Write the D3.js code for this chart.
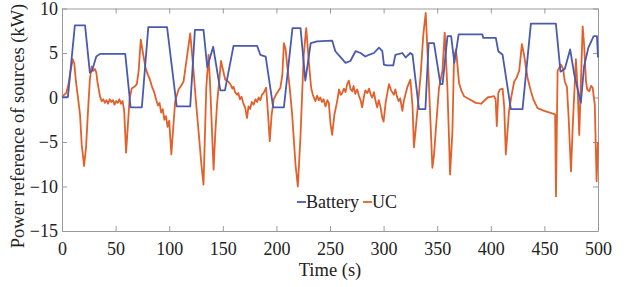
<!DOCTYPE html>
<html>
<head>
<meta charset="utf-8">
<script src="https://cdn.jsdelivr.net/npm/d3@7/dist/d3.min.js"></script>
<style>
    body { margin: 0; background: #fff; }
    svg { display: block; }
</style>
</head>
<body>
<div id="chart"></div>
<script>
//Tick values for both axes
const xTicks = [0, 50, 100, 150, 200, 250, 300, 350, 400, 450, 500];
const yTicks = [-15, -10, -5, 0, 5, 10];
const seriesNames = ['Battery', 'UC'];

//Battery reference (time in s, power in kW)
const batteryTime = [0, 5.5, 12, 21.5, 26, 28, 32, 35.5, 59, 64, 74.5, 80.5, 98, 107, 119.6, 124, 132, 135.5, 141, 147.7,
    152, 160, 182, 185, 190, 197, 207, 215, 222.5, 227, 232, 238, 252, 255, 260, 264.5, 269, 273.8, 278.5, 283,
    286.3, 291, 295.7, 298.8, 300.3, 303, 309, 311, 317.5, 320.6, 325, 327, 333, 339, 342, 347, 353, 355, 359.6, 363,
    366, 370, 392, 393, 404.7, 407, 411, 418.7, 429.6, 437.4, 460.7, 465, 469, 474, 478, 484, 487, 491, 496, 499, 500];
const batteryPower = [0.05, 0.05, 8.1, 8.1, 2.8, 3.0, 4.6, 4.9, 4.9, -1.1, -1.1, 7.9, 7.9, -1.0, -1.0, 7.6, 7.6, 3.4, 5.7, 0.8,
    0.8, 5.8, 5.8, 4.8, 4.6, -1.1, -1.1, 7.8, 7.8, 1.9, 6.1, 6.3, 6.4, 5.2, 4.5, 3.9, 4.1, 5.2, 5.0, 4.6,
    4.8, 5.0, 5.6, 5.2, 3.7, 3.6, 3.6, 4.8, 5.0, 4.5, 5.0, 4.8, -1.3, -1.3, 6.1, 6.1, 1.5, 1.5, 6.9, 6.9,
    3.9, 7.1, 7.1, 6.7, 6.7, 5.2, 4.8, -1.3, -1.3, 8.3, 8.3, 2.9, 3.2, 5.4, 2.5, -0.6, 3.5, 5.6, 6.9, 6.9, 4.5];

//UC reference
const ucTime = [0, 4, 6, 8, 10, 11.5, 13, 15.3, 16.8, 18.4, 20.6, 22.4, 24.6, 26, 27.7, 29, 30.8, 32, 33, 35.5,
    37, 38.5, 40, 41.5, 43, 44.5, 46, 47.5, 49, 50.5, 52, 53.5, 55, 56.5, 58, 59.8, 61.5, 63, 65, 67.5,
    69.8, 71.5, 73.5, 75.5, 78, 80, 82, 84, 86, 88, 89.5, 91, 92.5, 94, 95.5, 97, 98.5, 100, 102, 104,
    105.6, 108.7, 111, 113.4, 116.5, 119.6, 122.7, 125, 127.4, 130, 132, 134.6, 136.7, 138.3, 140, 141.4, 143, 144.6, 148.3, 152.3,
    155, 157, 159, 160, 161.5, 163.3, 164.5, 166, 167.5, 169, 171, 172.6, 174, 175.5, 177, 178.8, 180.5, 182, 183.5, 185,
    186.5, 188, 190.4, 192, 193.8, 195.5, 197.5, 200, 203.7, 205.5, 207, 208.5, 210, 212.5, 214.7, 217.8, 220, 222.4, 225.5, 227.8,
    230.2, 232.4, 234, 236.4, 238, 239.5, 241, 242.5, 244, 245.8, 247.5, 248.9, 250.5, 252, 254, 256.7, 258.4, 260, 261.4, 263,
    264.5, 266, 267.6, 269, 270.8, 272, 273.5, 275.4, 277, 278.5, 280, 281.5, 283, 284.8, 286.5, 288, 289.4, 291, 292.5, 294,
    295.5, 297, 298.8, 300, 302, 305, 307, 309.6, 311, 312.5, 314, 315.5, 317.5, 319, 320.5, 322, 325, 327, 328.3, 330,
    331.5, 333, 334.6, 337, 339.3, 341, 342.4, 344, 345.5, 347, 348.6, 351.7, 354.9, 357, 359.5, 361, 362, 364.2, 365.7, 367.5,
    369, 370.4, 372.5, 375, 380, 386, 391, 397, 403, 404.5, 405.6, 407, 408.5, 411, 412.5, 414, 417, 419, 421.8, 424,
    426.5, 429, 431, 434.3, 437.4, 440, 443.6, 449.8, 455, 460, 460.8, 462.3, 465.4, 467.5, 469, 471, 472.5, 474.8, 476.5, 479.4,
    481, 482.5, 484, 485.7, 487, 488.8, 490, 491.9, 493.5, 495, 497, 498.7, 500];
const ucPower = [0.1, 0.5, 1.5, 3.0, 4.3, 3.8, 1.8, -0.4, -1.9, -5.3, -7.7, -5.6, -0.8, 2.0, 3.5, 3.0, 3.2, 2.8, 1.8, 0.1,
    -0.4, -0.2, -0.6, -0.3, -0.7, -0.2, -0.5, -0.3, -0.8, -0.4, -0.6, -0.2, -0.7, -0.4, -1.5, -6.2, -3.0, -0.2, 1.0, 1.2,
    1.5, 3.0, 6.5, 5.0, 3.3, 2.6, 2.0, 1.2, 0.6, -0.3, -0.9, -0.6, -1.7, -1.3, -2.5, -2.1, -3.3, -2.6, -6.4, -3.0,
    -0.4, 0.9, 1.3, 1.8, 4.5, 7.2, 3.0, -0.5, -3.8, -7.5, -9.8, 1.1, 4.8, 1.1, -4.0, -8.1, -4.0, -0.8, 4.1, 2.0,
    1.8, 1.5, 1.0, 1.2, 0.6, 0.3, 0.5, -0.2, 0.1, -0.6, -1.2, -2.3, -1.0, -1.3, -0.5, -0.8, -0.2, -0.5, 0.0, -0.3,
    0.3, 0.5, 1.1, -1.5, -4.9, -2.0, -0.2, 0.4, 1.1, 2.5, 6.1, 5.5, 3.7, 1.0, -1.9, -7.5, -10.0, -4.5, 4.8, 7.8,
    4.1, 1.1, 0.3, -0.4, 0.2, -0.3, 0.0, -0.5, -0.2, -1.0, -0.3, -0.6, -3.0, -4.2, -2.0, -0.4, 0.9, 0.3, 0.5, 1.0,
    0.6, 1.5, 1.9, 1.0, 0.7, 1.3, 0.4, 0.9, 0.2, -0.3, -1.1, 0.0, 0.8, 0.5, 1.0, 0.3, 0.0, 0.6, -0.4, -1.1,
    -0.3, -1.0, -2.3, -2.7, -0.5, 1.5, 0.8, 0.3, 0.9, 0.1, -0.4, -0.1, -1.5, -0.3, 0.4, 1.1, 2.0, -1.0, -5.6, -3.5,
    -1.5, 0.5, 2.6, 7.0, 9.5, 5.0, 1.1, -3.5, -7.9, -6.5, -3.8, 1.1, 3.0, 7.3, 1.1, -4.5, -8.65, -3.8, 4.5, 5.4,
    3.5, 1.6, 0.8, 0.15, -0.2, -0.6, -0.7, 0.0, 0.15, -0.2, -3.2, 0.5, 0.9, 1.0, -1.0, -6.4, -1.5, 0.0, 1.8, 2.2,
    3.0, 6.0, 4.8, 2.2, 0.7, -0.3, -1.2, -1.5, -1.7, -1.9, -11.1, 3.0, 3.7, 3.2, 1.8, 1.2, -2.0, -8.3, -3.0, 4.3,
    1.0, -4.2, 1.5, 8.0, 6.0, 1.8, 0.9, 0.7, 1.3, 1.1, -0.8, -9.4, -5.0];

const width = 627, height = 287;
const margin = { left: 62, right: 29, top: 8.5, bottom: 56 };
const plotRight = width - margin.right, plotBottom = height - margin.bottom;
const colors = { 'Battery': '#4a5aae', 'UC': '#e2612b' };
const axisColor = '#9a9a9a';
const serif = 'Liberation Serif';

const svg = d3.select('#chart').append('svg')
    .attr('width', width)
    .attr('height', height)
    .attr('font-family', serif)
    .attr('font-size', 18.5);
svg.append('rect').attr('width', width).attr('height', height).attr('fill', '#fff');

const xScale = d3.scaleLinear().domain([0, 500]).range([margin.left, plotRight]);
const yScale = d3.scaleLinear().domain([-15, 10]).range([plotBottom, margin.top]);

//Build point lists from the arrays
const batteryData = batteryTime.map(function(t, i) { return { t: t, v: batteryPower[i] }; });
const ucData = ucTime.map(function(t, i) { return { t: t, v: ucPower[i] }; });

const line = d3.line()
    .x(function(d) { return xScale(d.t); })
    .y(function(d) { return yScale(d.v); });

//Box with inward ticks on all four sides
const bottomAxis = svg.append('g')
    .attr('transform', 'translate(0,' + plotBottom + ')')
    .call(d3.axisBottom(xScale).tickValues(xTicks).tickSizeInner(-5).tickSizeOuter(0).tickPadding(11));
const topAxis = svg.append('g')
    .attr('transform', 'translate(0,' + margin.top + ')')
    .call(d3.axisTop(xScale).tickValues(xTicks).tickSizeInner(-5).tickSizeOuter(0).tickFormat(''));
const leftAxis = svg.append('g')
    .attr('transform', 'translate(' + margin.left + ',0)')
    .call(d3.axisLeft(yScale).tickValues(yTicks).tickSizeInner(-5).tickSizeOuter(0).tickPadding(4));
const rightAxis = svg.append('g')
    .attr('transform', 'translate(' + plotRight + ',0)')
    .call(d3.axisRight(yScale).tickValues(yTicks).tickSizeInner(-5).tickSizeOuter(0).tickFormat(''));

[bottomAxis, topAxis, leftAxis, rightAxis].forEach(function(g) {
    g.attr('font-family', serif).attr('font-size', 18);
    g.selectAll('path, line').attr('stroke', axisColor).attr('stroke-width', 1);
    g.selectAll('text').attr('fill', '#222');
});

//Series lines
svg.append('path')
    .datum(ucData)
    .attr('fill', 'none')
    .attr('stroke', colors['UC'])
    .attr('stroke-width', 1.8)
    .attr('stroke-linejoin', 'round')
    .attr('d', line);
svg.append('path')
    .datum(batteryData)
    .attr('fill', 'none')
    .attr('stroke', colors['Battery'])
    .attr('stroke-width', 1.8)
    .attr('stroke-linejoin', 'round')
    .attr('d', line);

//Axis labels
svg.append('text')
    .attr('x', (margin.left + plotRight) / 2)
    .attr('y', 276)
    .attr('text-anchor', 'middle')
    .attr('fill', '#222')
    .text('Time (s)');
svg.append('text')
    .attr('transform', 'translate(24,126) rotate(-90)')
    .attr('text-anchor', 'middle')
    .attr('fill', '#222')
    .text('Power reference of sources (kW)');

//Legend, no box
var legendX = 297;
seriesNames.forEach(function(name) {
    const item = svg.append('g').attr('transform', 'translate(' + legendX + ',202)');
    item.append('line')
        .attr('x1', 0).attr('x2', 9)
        .attr('y1', 0).attr('y2', 0)
        .attr('stroke', colors[name])
        .attr('stroke-width', 1.8);
    const label = item.append('text')
        .attr('x', 9)
        .attr('y', 6)
        .attr('font-size', 18)
        .attr('fill', '#222')
        .text(name);
    legendX += 9 + label.node().getComputedTextLength() + 4;
});
</script>
</body>
</html>
